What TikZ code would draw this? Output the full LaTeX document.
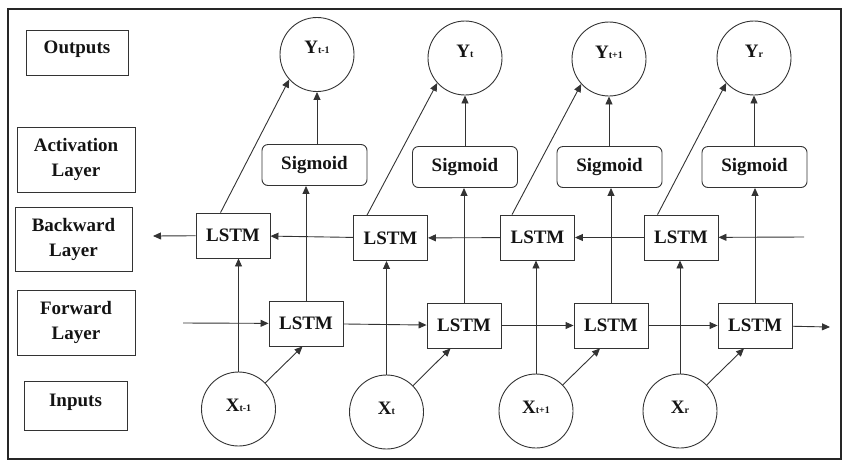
\documentclass[tikz,border=0pt]{standalone}
\usepackage{fontspec}
\setmainfont{Liberation Serif}
\usetikzlibrary{arrows.meta,calc}
\newcommand\sbt[1]{{\fontsize{10}{10}\selectfont #1}}
\begin{document}
\begin{tikzpicture}[x=1pt,y=-1pt,
  every node/.style={font=\bfseries\fontsize{19}{25}\selectfont, text=black!92},
  lbl/.style={draw=black!80, line width=1pt, align=center, inner sep=0pt},
  lstm/.style={draw=black!80, line width=0.9pt, minimum width=74pt, minimum height=45pt, inner sep=0pt},
  sig/.style={draw=black!80, line width=0.9pt, rounded corners=6pt, minimum width=105pt, minimum height=41pt, inner sep=0pt},
  circ/.style={draw=black!80, line width=0.9pt, circle, minimum size=74pt, inner sep=0pt},
  arr/.style={draw=black!80, line width=0.9pt, -{Triangle[length=8pt,width=7pt]}},
  ylab/.style={yshift=7pt},
  xlab/.style={yshift=4pt}
]
\useasboundingbox (0,0) rectangle (850,467);
\draw[line width=1.4pt, black!85] (8,9) rectangle (841,459);

% row labels
\node[lbl, minimum width=102pt, minimum height=45pt, text height=12pt, text depth=11pt] (lout) at (77,52.5) {Outputs};
\node[lbl, minimum width=118pt, minimum height=65pt] (lact) at (76,159.5) {Activation\\Layer};
\node[lbl, minimum width=117pt, minimum height=64pt] (lback) at (73.5,239) {Backward\\Layer};
\node[lbl, minimum width=118pt, minimum height=65pt] (lfwd) at (76,322.5) {Forward\\Layer};
\node[lbl, minimum width=103pt, minimum height=49pt, text height=12pt, text depth=11pt] (linp) at (75.5,405.5) {Inputs};

% outputs
\node[circ, label={[ylab]center:Y\sbt{t-1}}] (y1) at (317,54.5) {};
\node[circ, label={[ylab]center:Y\sbt{t}}] (y2) at (465,58) {};
\node[circ, label={[ylab]center:Y\sbt{t+1}}] (y3) at (609,59) {};
\node[circ, label={[ylab]center:Y\sbt{r}}] (y4) at (754,58) {};

% sigmoid
\node[sig] (s1) at (314.5,165) {Sigmoid};
\node[sig] (s2) at (465,167) {Sigmoid};
\node[sig] (s3) at (609.5,167) {Sigmoid};
\node[sig] (s4) at (754.5,167) {Sigmoid};

% backward LSTM
\node[lstm] (b1) at (233,235.5) {LSTM};
\node[lstm] (b2) at (390.5,238) {LSTM};
\node[lstm] (b3) at (537.5,237.5) {LSTM};
\node[lstm] (b4) at (681,237.5) {LSTM};

% forward LSTM
\node[lstm] (f1) at (306,323.5) {LSTM};
\node[lstm] (f2) at (464,325.5) {LSTM};
\node[lstm] (f3) at (611,325.5) {LSTM};
\node[lstm] (f4) at (755,325.5) {LSTM};

% inputs
\node[circ, label={[xlab]center:X\sbt{t-1}}] (x1) at (238.5,409) {};
\node[circ, label={[xlab]center:X\sbt{t}}] (x2) at (386.5,412) {};
\node[circ, label={[xlab]center:X\sbt{t+1}}] (x3) at (536,411) {};
\node[circ, label={[xlab]center:X\sbt{r}}] (x4) at (680,411) {};

% free ends
\coordinate (bl) at (153,236);
\coordinate (br) at (804,237);
\coordinate (fl) at (183,323);
\coordinate (fr) at (830,327);

% backward chain
\draw[arr] (br) -- (b4);
\draw[arr] (b4) -- (b3);
\draw[arr] (b3) -- (b2);
\draw[arr] (b2) -- (b1);
\draw[arr] (b1) -- (bl);

% forward chain
\draw[arr] (fl) -- (f1);
\draw[arr] (f1) -- (f2);
\draw[arr] (f2) -- (f3);
\draw[arr] (f3) -- (f4);
\draw[arr] (f4) -- (fr);

% columns
\foreach \i/\o in {1/25,2/14,3/12,4/14}{
  \draw[arr] (x\i) -- (x\i |- b\i.south);
  \draw[arr] (x\i) -- ($(x\i |- f\i.south)+(64,0)$);
  \draw[arr] (f\i) -- (f\i |- s\i.south);
  \draw[arr] (y\i |- s\i.north) -- (y\i);
  \draw[arr] ($(b\i.north west)+(\o,0)$) -- (y\i.222);
}
\end{tikzpicture}
\end{document}
